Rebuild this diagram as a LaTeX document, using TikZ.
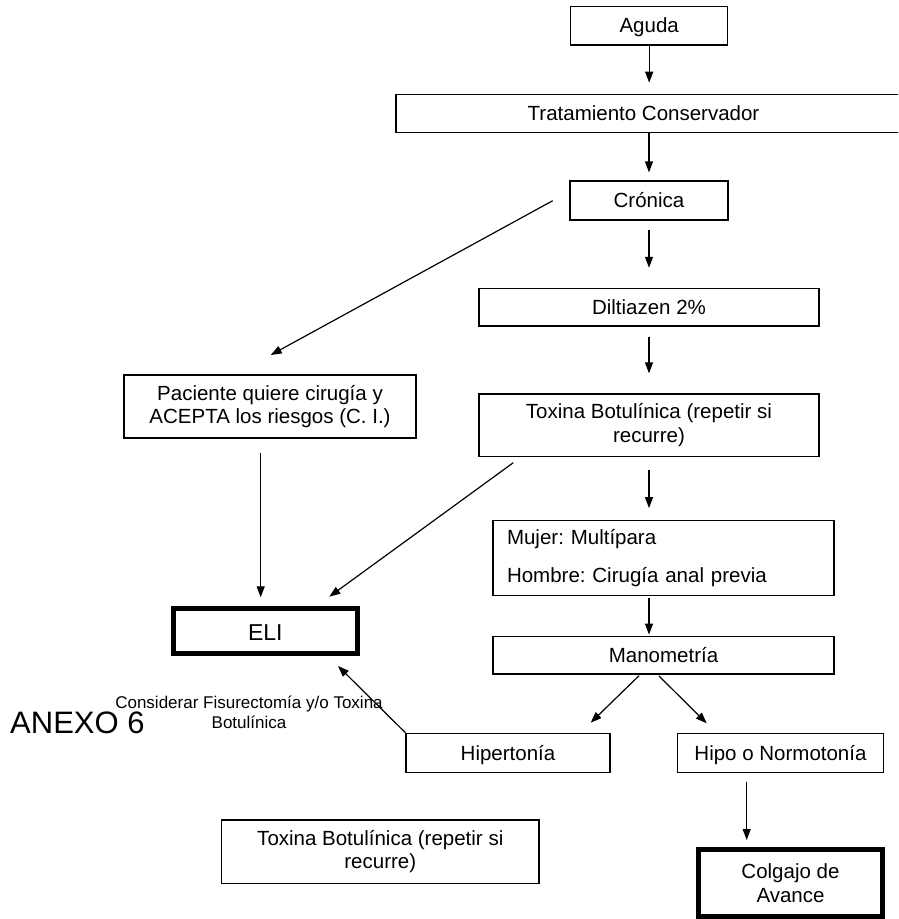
\documentclass[tikz,border=0pt]{standalone}
\usepackage{fontspec}
\setmainfont{Liberation Sans}
\usetikzlibrary{arrows.meta}
\newcommand\mainfs{\fontsize{20.5}{23.5}\selectfont}
\newcommand\elifs{\fontsize{23}{26}\selectfont}
\newcommand\smallfs{\fontsize{17}{19.5}\selectfont}
\newcommand\anexofs{\fontsize{31}{36}\selectfont}
\frenchspacing
\begin{document}
\frenchspacing
\begin{tikzpicture}[x=1pt,y=-1pt,
  box/.style={draw,line width=1.2pt,inner sep=0pt,font=\mainfs},
  one/.style={text height=16pt,text depth=2pt},
  heavy/.style={line width=5pt},
  arr/.style={-{Triangle[length=11pt,width=8pt]},line width=1.2pt}]
\useasboundingbox (0,0) rectangle (898,919);
\clip (0,0) rectangle (898,919);
% boxes
\node[box,one,minimum width=157pt,minimum height=38.3pt] (aguda) at (649.2,25.8) {Aguda};
\node[box,one,minimum width=520pt,minimum height=38.4pt] (trat) at (656,113.5) {\hspace*{-25pt}Tratamiento Conservador};
\node[box,one,minimum width=158pt,minimum height=39pt] (cron) at (649,200.5) {Crónica};
\node[box,one,minimum width=340pt,minimum height=37.7pt] (dilt) at (649,307.2) {Diltiazen 2\%};
\node[box,align=center,minimum width=340pt,minimum height=62.7pt] (toxa) at (649,425.3) {Toxina Botulínica (repetir si\\recurre)};
\node[box,align=center,minimum width=292pt,minimum height=63pt] (pac) at (270,406.5) {Paciente quiere cirugía y\\ACEPTA los riesgos (C. I.)};
\node[box,align=left,text width=313pt,inner xsep=14pt,minimum height=75pt] (mujer) at (663.5,558.2) {Mujer: Multípara\\[13.8pt]Hombre: Cirugía anal previa};
\node[box,one,minimum width=341pt,minimum height=37.3pt] (mano) at (663.5,655.3) {Manometría};
\node[box,one,minimum width=204pt,minimum height=39.4pt] (hiper) at (508,753) {Hipertonía};
\node[box,one,minimum width=205.6pt,minimum height=39.4pt] (hipo) at (780.5,753) {Hipo o Normotonía};
\node[box,align=center,minimum width=317.3pt,minimum height=63.3pt] (toxb) at (380.3,851.7) {Toxina Botulínica (repetir si\\recurre)};
\node[box,heavy,minimum width=184.5pt,minimum height=45pt,font=\elifs,text height=19pt,text depth=0pt] (eli) at (265.3,630.5) {ELI};
\node[box,heavy,align=center,minimum width=184pt,minimum height=66.7pt] (colg) at (790.5,883.2) {Colgajo de\\Avance};
% free texts
\node[font=\smallfs,align=center,inner sep=0pt] (cons) at (249,712.5) {Considerar Fisurectomía y/o Toxina\\Botulínica};
\node[font=\anexofs,anchor=base west,inner sep=0pt] (anexo) at (10,733.3) {ANEXO 6};
% free connector ends
\coordinate (p1) at (552.7,200.7);
\coordinate (p2) at (270.7,355);
\coordinate (p3) at (260.7,452.7);
\coordinate (p4) at (260.7,597.3);
\coordinate (p5) at (513.3,462.7);
\coordinate (p6) at (329.3,596.7);
\coordinate (p7) at (639,675.7);
\coordinate (p8) at (590.7,722.7);
\coordinate (p9) at (659,676);
\coordinate (p10) at (706.7,723.3);
\coordinate (p11) at (746.7,781.7);
\coordinate (p12) at (746.7,840);
\coordinate (p13) at (338,666);
% connectors
\draw[arr,shorten >=11pt] (aguda.south) -- (aguda.south |- trat.north);
\draw[arr,shorten >=8pt] (cron.north |- trat.south) -- (cron.north);
\draw[arr,shorten <=9pt,shorten >=20pt] (cron.south) -- (dilt.north);
\draw[arr,shorten <=10pt,shorten >=20pt] (dilt.south) -- (toxa.north);
\draw[arr,shorten <=13pt,shorten >=12pt] (toxa.south) -- (toxa.south |- mujer.north);
\draw[arr,shorten <=1.5pt,shorten >=1.5pt] (toxa.south |- mujer.south) -- (toxa.south |- mano.north);
\draw[arr] (p1) -- (p2);
\draw[arr] (p3) -- (p4);
\draw[arr] (p5) -- (p6);
\draw[arr] (p7) -- (p8);
\draw[arr] (p9) -- (p10);
\draw[arr] (p11) -- (p12);
\draw[arr] (hiper.north west) -- (p13);
\end{tikzpicture}
\end{document}
